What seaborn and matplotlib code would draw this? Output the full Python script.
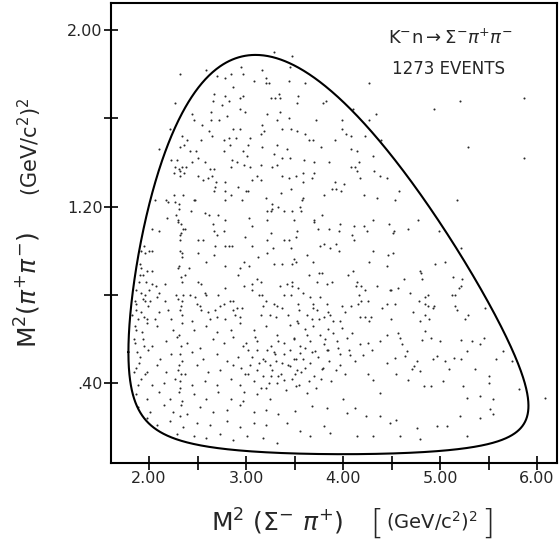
import numpy as np
import pandas as pd
import matplotlib
matplotlib.use("Agg")
import matplotlib.pyplot as plt
import seaborn as sns

# ---- kinematics of K- n -> Sigma- pi+ pi- ----
SQRT_S = 2.571        # total CM energy (GeV)
M_SIGMA = 1.1974      # Sigma- mass (GeV)
M_PI = 0.1396         # charged pion mass (GeV)

# ---- axis ticks ----
x_major = [2.0, 3.0, 4.0, 5.0, 6.0]
x_major_labels = ["2.00", "3.00", "4.00", "5.00", "6.00"]
x_minor = [2.5, 3.5, 4.5, 5.5]
y_major = [0.40, 1.20, 2.00]
y_major_labels = [".40", "1.20", "2.00"]
y_minor = [0.80, 1.60]

# ---- events: (M2(Sigma- pi+), M2(pi+ pi-)) in GeV^2 ----
events_upper_left = [
    (2.70, 1.79), (2.78, 1.78), (2.67, 1.71), (2.78, 1.70), (2.66, 1.68), (2.75, 1.66),
    (2.64, 1.63), (2.44, 1.62), (2.46, 1.59), (2.64, 1.59), (2.72, 1.59), (2.55, 1.57),
    (2.62, 1.54), (2.65, 1.52), (2.77, 1.50), (2.34, 1.52), (2.39, 1.50), (2.36, 1.48),
    (2.32, 1.47), (2.42, 1.45), (2.48, 1.45), (2.54, 1.50), (2.77, 1.45), (2.23, 1.41),
    (2.29, 1.41), (2.27, 1.38), (2.31, 1.37), (2.32, 1.36), (2.34, 1.38), (2.38, 1.38),
    (2.44, 1.40), (2.50, 1.42), (2.58, 1.40), (2.63, 1.37), (2.67, 1.37), (2.26, 1.35),
    (2.32, 1.34), (2.36, 1.35), (2.51, 1.34), (2.56, 1.32), (2.61, 1.33), (2.65, 1.34),
    (2.69, 1.31), (2.78, 1.31),
]

events_upper_center = [
    (2.95, 1.83), (3.16, 1.82), (2.85, 1.80), (2.97, 1.80), (3.45, 1.83), (3.08, 1.77),
    (3.21, 1.78), (3.21, 1.76), (3.24, 1.76), (3.44, 1.77), (3.61, 1.76), (2.87, 1.74),
    (3.34, 1.71), (3.54, 1.70), (2.82, 1.68), (2.94, 1.69), (2.97, 1.70), (3.26, 1.69),
    (3.30, 1.69), (3.35, 1.69), (3.53, 1.67), (3.82, 1.68), (3.79, 1.67), (2.94, 1.64),
    (2.99, 1.63), (3.35, 1.63), (3.22, 1.62), (2.80, 1.61), (3.32, 1.59), (3.44, 1.60),
    (3.72, 1.59), (3.16, 1.57), (2.87, 1.55), (2.94, 1.55), (3.19, 1.54), (3.15, 1.53),
    (3.37, 1.55), (3.46, 1.55), (3.53, 1.54), (3.61, 1.53), (2.82, 1.51), (2.90, 1.51),
    (3.65, 1.50), (3.69, 1.50), (3.04, 1.51), (2.83, 1.48), (3.02, 1.48), (3.32, 1.48),
    (3.16, 1.47), (3.77, 1.47), (2.97, 1.45), (3.01, 1.43), (3.42, 1.46), (3.29, 1.44),
    (3.37, 1.42), (2.86, 1.41), (2.91, 1.40), (2.98, 1.39), (3.45, 1.42), (3.60, 1.41),
    (3.70, 1.40), (2.84, 1.38), (3.04, 1.38), (3.15, 1.39), (3.27, 1.38), (3.32, 1.39),
    (3.11, 1.34), (3.37, 1.34), (3.44, 1.33), (3.52, 1.34), (3.59, 1.35), (3.70, 1.35),
    (3.06, 1.32), (3.15, 1.32), (3.68, 1.33), (3.59, 1.31),
]

events_upper_right = [
    (4.10, 1.64), (3.99, 1.59), (3.99, 1.55), (4.03, 1.53), (4.08, 1.52), (4.23, 1.52),
    (3.92, 1.50), (4.39, 1.50), (4.08, 1.46), (4.14, 1.45), (4.31, 1.43), (4.16, 1.40),
    (3.86, 1.40), (4.08, 1.38), (4.12, 1.38), (4.14, 1.36), (4.32, 1.36), (4.38, 1.34),
    (4.17, 1.33), (4.45, 1.33), (4.01, 1.30), (3.92, 1.31),
]

events_middle_left = [
    (2.68, 1.29), (2.67, 1.27), (2.78, 1.27), (2.78, 1.23), (2.35, 1.25), (2.47, 1.23),
    (2.46, 1.23), (2.26, 1.25), (2.27, 1.22), (2.31, 1.21), (2.18, 1.23), (2.20, 1.22),
    (2.06, 1.23), (2.43, 1.18), (2.58, 1.17), (2.62, 1.16), (2.71, 1.16), (2.78, 1.14),
    (2.19, 1.15), (2.28, 1.16), (2.30, 1.14), (2.30, 1.13), (2.66, 1.12), (2.03, 1.10),
    (2.10, 1.09), (2.35, 1.10), (2.37, 1.10), (2.33, 1.08), (2.32, 1.07), (2.70, 1.07),
    (2.67, 1.09), (2.77, 1.09), (2.50, 1.05), (2.56, 1.05), (2.32, 1.05), (2.00, 1.00),
    (2.03, 1.00), (1.92, 1.00), (1.96, 0.99), (2.34, 0.99), (2.34, 0.97), (2.51, 0.99),
    (2.59, 0.95), (2.68, 1.02), (2.78, 1.02), (2.67, 0.98), (1.98, 0.91), (2.03, 0.91),
    (1.94, 0.89), (1.92, 0.92), (1.91, 0.89), (2.30, 0.92), (2.37, 0.89), (2.41, 0.92),
    (2.78, 0.93), (1.90, 0.86), (2.03, 0.85), (2.07, 0.84), (2.16, 0.85), (2.34, 0.86),
    (2.51, 0.86), (2.54, 0.85), (2.78, 0.83), (1.92, 0.81), (2.00, 0.82), (1.96, 0.80),
    (1.94, 0.78), (2.10, 0.81), (2.08, 0.79), (2.28, 0.80), (2.30, 0.78), (2.35, 0.80),
    (2.34, 0.77), (2.42, 0.80), (2.47, 0.79), (2.58, 0.81), (2.59, 0.80), (2.71, 0.80),
    (1.86, 0.77), (1.87, 0.76), (1.96, 0.77), (2.01, 0.77), (2.16, 0.77), (2.49, 0.76),
    (2.53, 0.75), (2.33, 0.75), (2.32, 0.73), (2.34, 0.71), (2.77, 0.76), (2.73, 0.75),
    (1.87, 0.73), (1.92, 0.72), (1.82, 0.71), (2.10, 0.72), (2.20, 0.73), (2.54, 0.73),
    (2.61, 0.72), (2.68, 0.73), (2.70, 0.70), (1.89, 0.69), (1.98, 0.69), (2.06, 0.69),
    (2.23, 0.69), (2.44, 0.68), (2.63, 0.69), (2.78, 0.69),
]

events_middle_center = [
    (2.92, 1.29), (3.00, 1.27), (3.02, 1.27), (3.46, 1.28), (2.85, 1.25), (2.96, 1.23),
    (3.21, 1.24), (3.36, 1.26), (3.58, 1.23), (3.59, 1.24), (3.80, 1.25), (3.27, 1.21),
    (3.27, 1.19), (3.33, 1.20), (3.56, 1.20), (3.22, 1.18), (3.26, 1.18), (3.39, 1.18),
    (3.47, 1.18), (3.57, 1.18), (3.03, 1.15), (3.22, 1.14), (3.49, 1.14), (3.70, 1.14),
    (3.70, 1.13), (3.78, 1.16), (3.06, 1.11), (3.53, 1.09), (3.74, 1.10), (2.99, 1.06),
    (3.26, 1.08), (3.52, 1.06), (3.39, 1.05), (3.44, 1.05), (3.22, 1.05), (2.86, 1.02),
    (2.82, 1.02), (3.06, 1.02), (3.28, 1.01), (3.46, 1.01), (3.76, 1.02), (3.80, 1.03),
    (3.22, 0.99), (3.63, 0.98), (3.12, 0.97), (2.98, 0.95), (3.49, 0.96), (3.52, 0.95),
    (3.69, 0.95), (3.29, 0.94), (3.37, 0.94), (3.47, 0.94), (2.94, 0.92), (3.03, 0.93),
    (3.75, 0.90), (3.78, 0.90), (2.92, 0.89), (3.65, 0.89), (3.11, 0.87), (3.15, 0.86),
    (3.47, 0.86), (3.47, 0.84), (3.42, 0.85), (3.73, 0.86), (2.98, 0.84), (3.06, 0.85),
    (3.35, 0.84), (3.83, 0.85), (3.06, 0.82), (3.54, 0.83), (3.59, 0.81), (3.13, 0.80),
    (3.16, 0.80), (3.39, 0.80), (3.46, 0.80), (3.66, 0.79), (3.76, 0.79), (2.83, 0.77),
    (2.87, 0.77), (3.21, 0.77), (3.29, 0.76), (3.54, 0.76), (3.69, 0.76), (3.83, 0.76),
    (2.91, 0.74), (2.96, 0.74), (2.87, 0.73), (3.18, 0.75), (3.32, 0.75), (3.37, 0.74),
    (3.55, 0.73), (3.69, 0.74), (3.73, 0.73), (3.15, 0.71), (3.25, 0.71), (3.31, 0.70),
    (3.43, 0.71), (3.63, 0.71), (3.68, 0.69), (3.75, 0.69), (3.53, 0.68), (3.80, 0.70),
    (3.84, 0.72), (2.89, 0.71), (2.94, 0.70),
]

events_middle_right = [
    (3.89, 1.28), (3.93, 1.28), (3.98, 1.27), (4.58, 1.27), (4.22, 1.25), (4.35, 1.24),
    (4.54, 1.23), (4.77, 1.14), (4.31, 1.14), (4.47, 1.12), (3.97, 1.12), (4.11, 1.11),
    (4.22, 1.11), (4.25, 1.09), (4.53, 1.09), (4.52, 1.08), (4.67, 1.10), (3.86, 1.10),
    (3.96, 1.09), (4.09, 1.07), (4.11, 1.05), (3.87, 1.01), (3.96, 1.00), (3.93, 1.03),
    (4.31, 1.00), (4.52, 0.99), (4.46, 0.98), (4.27, 0.95), (4.45, 0.93), (4.10, 0.91),
    (4.05, 0.89), (4.79, 0.91), (4.80, 0.90), (4.81, 0.87), (4.63, 0.87), (3.89, 0.86),
    (4.14, 0.86), (4.13, 0.84), (4.19, 0.84), (4.35, 0.84), (4.23, 0.82), (4.48, 0.82),
    (4.49, 0.82), (4.57, 0.83), (4.69, 0.81), (4.16, 0.80), (4.88, 0.80), (4.85, 0.79),
    (4.19, 0.77), (4.15, 0.76), (4.26, 0.77), (4.45, 0.76), (4.54, 0.76), (4.85, 0.76),
    (4.88, 0.75), (4.78, 0.77), (3.99, 0.75), (4.08, 0.75), (4.02, 0.72), (4.40, 0.74),
    (4.72, 0.72), (3.87, 0.71), (4.18, 0.70), (4.23, 0.70), (4.29, 0.70), (4.27, 0.68),
    (4.49, 0.69), (3.90, 0.68), (3.97, 0.68), (4.79, 0.68), (4.89, 0.69), (4.85, 0.71),
    (4.99, 1.09), (4.95, 0.94), (5.05, 0.95), (5.13, 0.88), (5.23, 0.87), (5.22, 0.84),
    (5.20, 0.83), (5.12, 0.80), (5.15, 0.80), (4.94, 0.75), (4.93, 0.74), (5.15, 0.75),
    (5.18, 0.73), (5.29, 0.71), (5.26, 0.69), (5.46, 0.74),
]

events_lower_left = [
    (1.87, 0.64), (1.98, 0.67), (2.08, 0.66), (2.25, 0.64), (2.34, 0.67), (2.46, 0.64),
    (2.59, 0.66), (2.70, 0.63), (2.84, 0.64), (2.94, 0.67), (3.08, 0.64), (3.21, 0.66),
    (3.32, 0.62), (1.86, 0.58), (1.94, 0.60), (2.03, 0.57), (2.18, 0.59), (2.29, 0.61),
    (2.39, 0.58), (2.53, 0.56), (2.66, 0.60), (2.77, 0.58), (2.87, 0.61), (2.97, 0.57),
    (3.11, 0.59), (3.26, 0.57), (1.91, 0.52), (1.99, 0.55), (2.11, 0.51), (2.23, 0.53),
    (2.34, 0.50), (2.44, 0.54), (2.56, 0.51), (2.70, 0.53), (2.80, 0.50), (2.92, 0.52),
    (3.02, 0.55), (3.18, 0.51), (3.30, 0.53), (1.87, 0.47), (1.98, 0.45), (2.08, 0.48),
    (2.18, 0.45), (2.30, 0.46), (2.37, 0.44), (2.49, 0.48), (2.61, 0.45), (2.73, 0.46),
    (2.87, 0.48), (2.99, 0.44), (3.11, 0.46), (3.25, 0.48), (3.33, 0.43), (1.92, 0.42),
    (2.03, 0.39), (2.15, 0.40), (2.27, 0.42), (2.32, 0.38), (2.44, 0.39), (2.58, 0.41),
    (2.70, 0.39), (2.84, 0.42), (2.94, 0.39), (3.08, 0.41), (3.21, 0.38), (3.32, 0.40),
    (1.87, 0.35), (1.98, 0.33), (2.10, 0.36), (2.22, 0.33), (2.34, 0.32), (2.46, 0.35),
    (2.59, 0.33), (2.71, 0.36), (2.84, 0.33), (2.97, 0.32), (3.11, 0.35), (3.25, 0.33),
    (1.89, 0.29), (2.01, 0.27), (2.15, 0.30), (2.25, 0.27), (2.39, 0.26), (2.53, 0.29),
    (2.66, 0.27), (2.80, 0.28), (2.94, 0.30), (3.08, 0.27), (3.21, 0.28), (3.33, 0.26),
    (1.98, 0.24), (2.08, 0.21), (2.22, 0.23), (2.35, 0.20), (2.49, 0.22), (2.63, 0.21),
    (2.80, 0.23), (2.94, 0.20), (3.08, 0.22), (3.21, 0.21), (2.29, 0.17), (2.46, 0.16),
    (2.59, 0.15), (2.73, 0.17), (2.87, 0.14), (3.01, 0.16), (3.18, 0.15), (3.32, 0.13),
]

events_lower_right = [
    (3.45, 0.665), (3.54, 0.673), (3.61, 0.643), (3.69, 0.658), (3.76, 0.620), (3.85, 0.643),
    (3.90, 0.627), (3.99, 0.650), (4.04, 0.605), (4.09, 0.627), (3.94, 0.590), (3.80, 0.575),
    (3.66, 0.590), (3.56, 0.567), (3.49, 0.605), (3.39, 0.582), (3.71, 0.545), (3.83, 0.552),
    (3.95, 0.560), (4.06, 0.552), (4.07, 0.529), (4.18, 0.575), (4.26, 0.582), (4.30, 0.552),
    (4.38, 0.590), (4.45, 0.620), (4.57, 0.627), (4.59, 0.605), (4.61, 0.575), (4.66, 0.545),
    (4.64, 0.522), (4.71, 0.462), (4.73, 0.477), (4.76, 0.499), (4.81, 0.597), (4.85, 0.635),
    (4.91, 0.605), (5.00, 0.590), (4.97, 0.522), (5.05, 0.499), (5.09, 0.462), (5.14, 0.514),
    (5.22, 0.507), (5.22, 0.597), (5.28, 0.545), (5.33, 0.590), (5.41, 0.575), (5.45, 0.605),
    (5.36, 0.462), (5.50, 0.431), (5.50, 0.401), (5.58, 0.507), (5.65, 0.545), (5.74, 0.499),
    (3.56, 0.537), (3.49, 0.507), (3.45, 0.477), (3.61, 0.469), (3.78, 0.462), (3.97, 0.484),
    (4.12, 0.499), (4.21, 0.529), (4.26, 0.439), (4.31, 0.416), (4.38, 0.356), (4.45, 0.492),
    (4.54, 0.514), (4.55, 0.439), (4.67, 0.416), (4.79, 0.454), (4.83, 0.386), (4.91, 0.386),
    (4.93, 0.507), (5.03, 0.409), (5.24, 0.386), (5.28, 0.333), (5.41, 0.341), (5.55, 0.326),
    (5.55, 0.258), (5.81, 0.371), (3.39, 0.416), (3.52, 0.386), (3.63, 0.356), (3.51, 0.273),
    (3.42, 0.220), (3.68, 0.296), (3.83, 0.288), (4.00, 0.326), (4.04, 0.265), (4.12, 0.288),
    (4.24, 0.250), (4.38, 0.250), (4.48, 0.220), (4.55, 0.235), (4.76, 0.198), (4.97, 0.205),
    (5.07, 0.205), (5.21, 0.250), (5.28, 0.160), (5.41, 0.243), (5.52, 0.281), (3.66, 0.160),
    (3.87, 0.175), (4.14, 0.160), (4.31, 0.160), (4.59, 0.160), (4.79, 0.145), (3.80, 0.205),
    (3.56, 0.182),
]

# densest part of the plot, low M2(pi+ pi-) and the bands near the left edge
events_core = [
    (2.95, 0.47), (3.02, 0.44), (3.06, 0.52), (3.13, 0.49), (3.17, 0.43), (3.22, 0.55),
    (3.27, 0.46), (3.31, 0.50), (3.36, 0.44), (3.39, 0.53), (3.43, 0.48), (3.47, 0.42),
    (3.52, 0.51), (3.57, 0.45), (3.61, 0.56), (3.66, 0.49), (3.70, 0.43), (3.74, 0.52),
    (3.79, 0.47), (3.84, 0.55), (3.88, 0.41), (3.00, 0.58), (3.09, 0.61), (3.15, 0.38),
    (3.24, 0.40), (3.33, 0.59), (3.41, 0.37), (3.49, 0.60), (3.55, 0.39), (3.63, 0.62),
    (3.72, 0.38), (3.81, 0.60), (2.98, 0.36), (3.11, 0.55), (3.20, 0.50), (3.29, 0.54),
    (3.37, 0.49), (3.45, 0.55), (3.53, 0.46), (3.59, 0.51), (3.68, 0.54), (3.77, 0.42),
    (3.86, 0.50), (3.04, 0.48), (3.26, 0.43), (3.50, 0.44), (3.65, 0.41), (3.93, 0.46),
    (3.97, 0.53), (4.02, 0.44),
    (2.31, 0.62), (2.33, 0.57), (2.32, 0.53), (2.31, 0.48), (2.33, 0.44), (2.32, 0.41),
    (2.31, 0.36), (2.33, 0.30), (2.32, 0.25), (2.33, 0.88), (2.31, 0.93), (2.32, 1.00),
    (2.33, 1.12), (2.31, 1.19),
    (1.84, 0.60), (1.86, 0.66), (1.88, 0.54), (1.90, 0.49), (1.85, 0.45), (1.89, 0.39),
    (1.87, 0.82), (1.91, 0.94), (1.95, 1.02), (1.93, 0.63), (1.95, 0.57), (1.96, 0.44),
    (1.95, 0.70), (1.99, 0.75), (1.97, 0.86),
]

# events lying just outside the kinematic boundary
events_outside = [
    (2.32, 1.80), (2.59, 1.82), (2.10, 1.46), (2.27, 1.67), (2.22, 1.55), (3.29, 1.90),
    (3.47, 1.88), (4.27, 1.76), (4.34, 1.62), (4.27, 1.59), (5.87, 1.69), (5.87, 1.42),
    (4.94, 1.64), (5.21, 1.68), (5.29, 1.47), (5.18, 1.23), (5.22, 1.01), (6.08, 0.333),
]

all_events = (events_upper_left + events_upper_center + events_upper_right
              + events_middle_left + events_middle_center + events_middle_right
              + events_lower_left + events_lower_right + events_core + events_outside)
events = pd.DataFrame(all_events, columns=["m2_sigma_pi", "m2_pipi"])


def dalitz_boundary(M, m1, m2, m3, n=700):
    """Closed kinematic boundary in the (m12^2, m23^2) plane."""
    lo, hi = (m1 + m2) ** 2, (M - m3) ** 2
    t = np.linspace(0.0, np.pi, n)
    s12 = lo + (hi - lo) * (1 - np.cos(t)) / 2
    m12 = np.sqrt(s12)
    e2 = (s12 - m1 ** 2 + m2 ** 2) / (2 * m12)
    e3 = (M ** 2 - s12 - m3 ** 2) / (2 * m12)
    p2 = np.sqrt(np.clip(e2 ** 2 - m2 ** 2, 0, None))
    p3 = np.sqrt(np.clip(e3 ** 2 - m3 ** 2, 0, None))
    upper = (e2 + e3) ** 2 - (p2 - p3) ** 2
    lower = (e2 + e3) ** 2 - (p2 + p3) ** 2
    x = np.concatenate([s12, s12[::-1]])
    y = np.concatenate([upper, lower[::-1]])
    return pd.DataFrame({"m2_sigma_pi": x, "m2_pipi": y})


boundary = dalitz_boundary(SQRT_S, M_SIGMA, M_PI, M_PI)

# ---- figure ----
sns.set_style("ticks")
plt.rcParams["font.family"] = ["DejaVu Sans"]
plt.rcParams["mathtext.fontset"] = "dejavusans"

W, H = 559, 546
fig = plt.figure(figsize=(W / 100, H / 100), dpi=100)
ax = fig.add_axes([111 / W, 1 - 463 / H, (557 - 111) / W, (463 - 3) / H])

sns.scatterplot(data=events, x="m2_sigma_pi", y="m2_pipi", ax=ax, s=2.2,
                color="#2a2a2a", linewidth=0, marker="o", legend=False)
sns.lineplot(data=boundary, x="m2_sigma_pi", y="m2_pipi", ax=ax, sort=False,
             estimator=None, color="black", linewidth=1.5)

ax.set_xlim(1.608, 6.206)
ax.set_ylim(0.038, 2.122)
ax.set_xticks(x_major)
ax.set_xticklabels(x_major_labels)
ax.set_xticks(x_minor, minor=True)
ax.set_yticks(y_major)
ax.set_yticklabels(y_major_labels)
ax.set_yticks(y_minor, minor=True)
ax.tick_params(axis="both", which="both", direction="inout", length=10,
               width=1.2, color="black", labelsize=11.5, pad=1)
ax.set_xlabel("")
ax.set_ylabel("")
for side in ["left", "bottom", "right", "top"]:
    ax.spines[side].set_visible(True)
    ax.spines[side].set_linewidth(1.5)
    ax.spines[side].set_color("black")

# reaction and event count
fig.text(450 / W, 1 - 38 / H, r"$\mathrm{K^{-}n} \rightarrow \Sigma^{-}\pi^{+}\pi^{-}$",
         ha="center", va="center", fontsize=13)
fig.text(448 / W, 1 - 69 / H, "1273 EVENTS", ha="center", va="center", fontsize=12)

# y-axis title
fig.text(30 / W, 1 - 147 / H, r"$\mathrm{(GeV/c^{2})^{2}}$", rotation=90,
         ha="center", va="center", fontsize=15)
fig.text(28 / W, 1 - 290 / H, r"$\mathrm{M^{2}}(\pi^{+}\pi^{-})$", rotation=90,
         ha="center", va="center", fontsize=18)

# x-axis title
fig.text(277 / W, 1 - 522 / H, r"$\mathrm{M^{2}}\ (\Sigma^{-}\ \pi^{+})$",
         ha="center", va="center", fontsize=18)
fig.text(432 / W, 1 - 521 / H, r"$\mathrm{(GeV/c^{2})^{2}}$",
         ha="center", va="center", fontsize=14)
fig.text(377 / W, 1 - 524 / H, "[", ha="center", va="center", fontsize=24,
         fontweight="light")
fig.text(488 / W, 1 - 524 / H, "]", ha="center", va="center", fontsize=24,
         fontweight="light")

fig.savefig("out.png", dpi=100, facecolor="white")
